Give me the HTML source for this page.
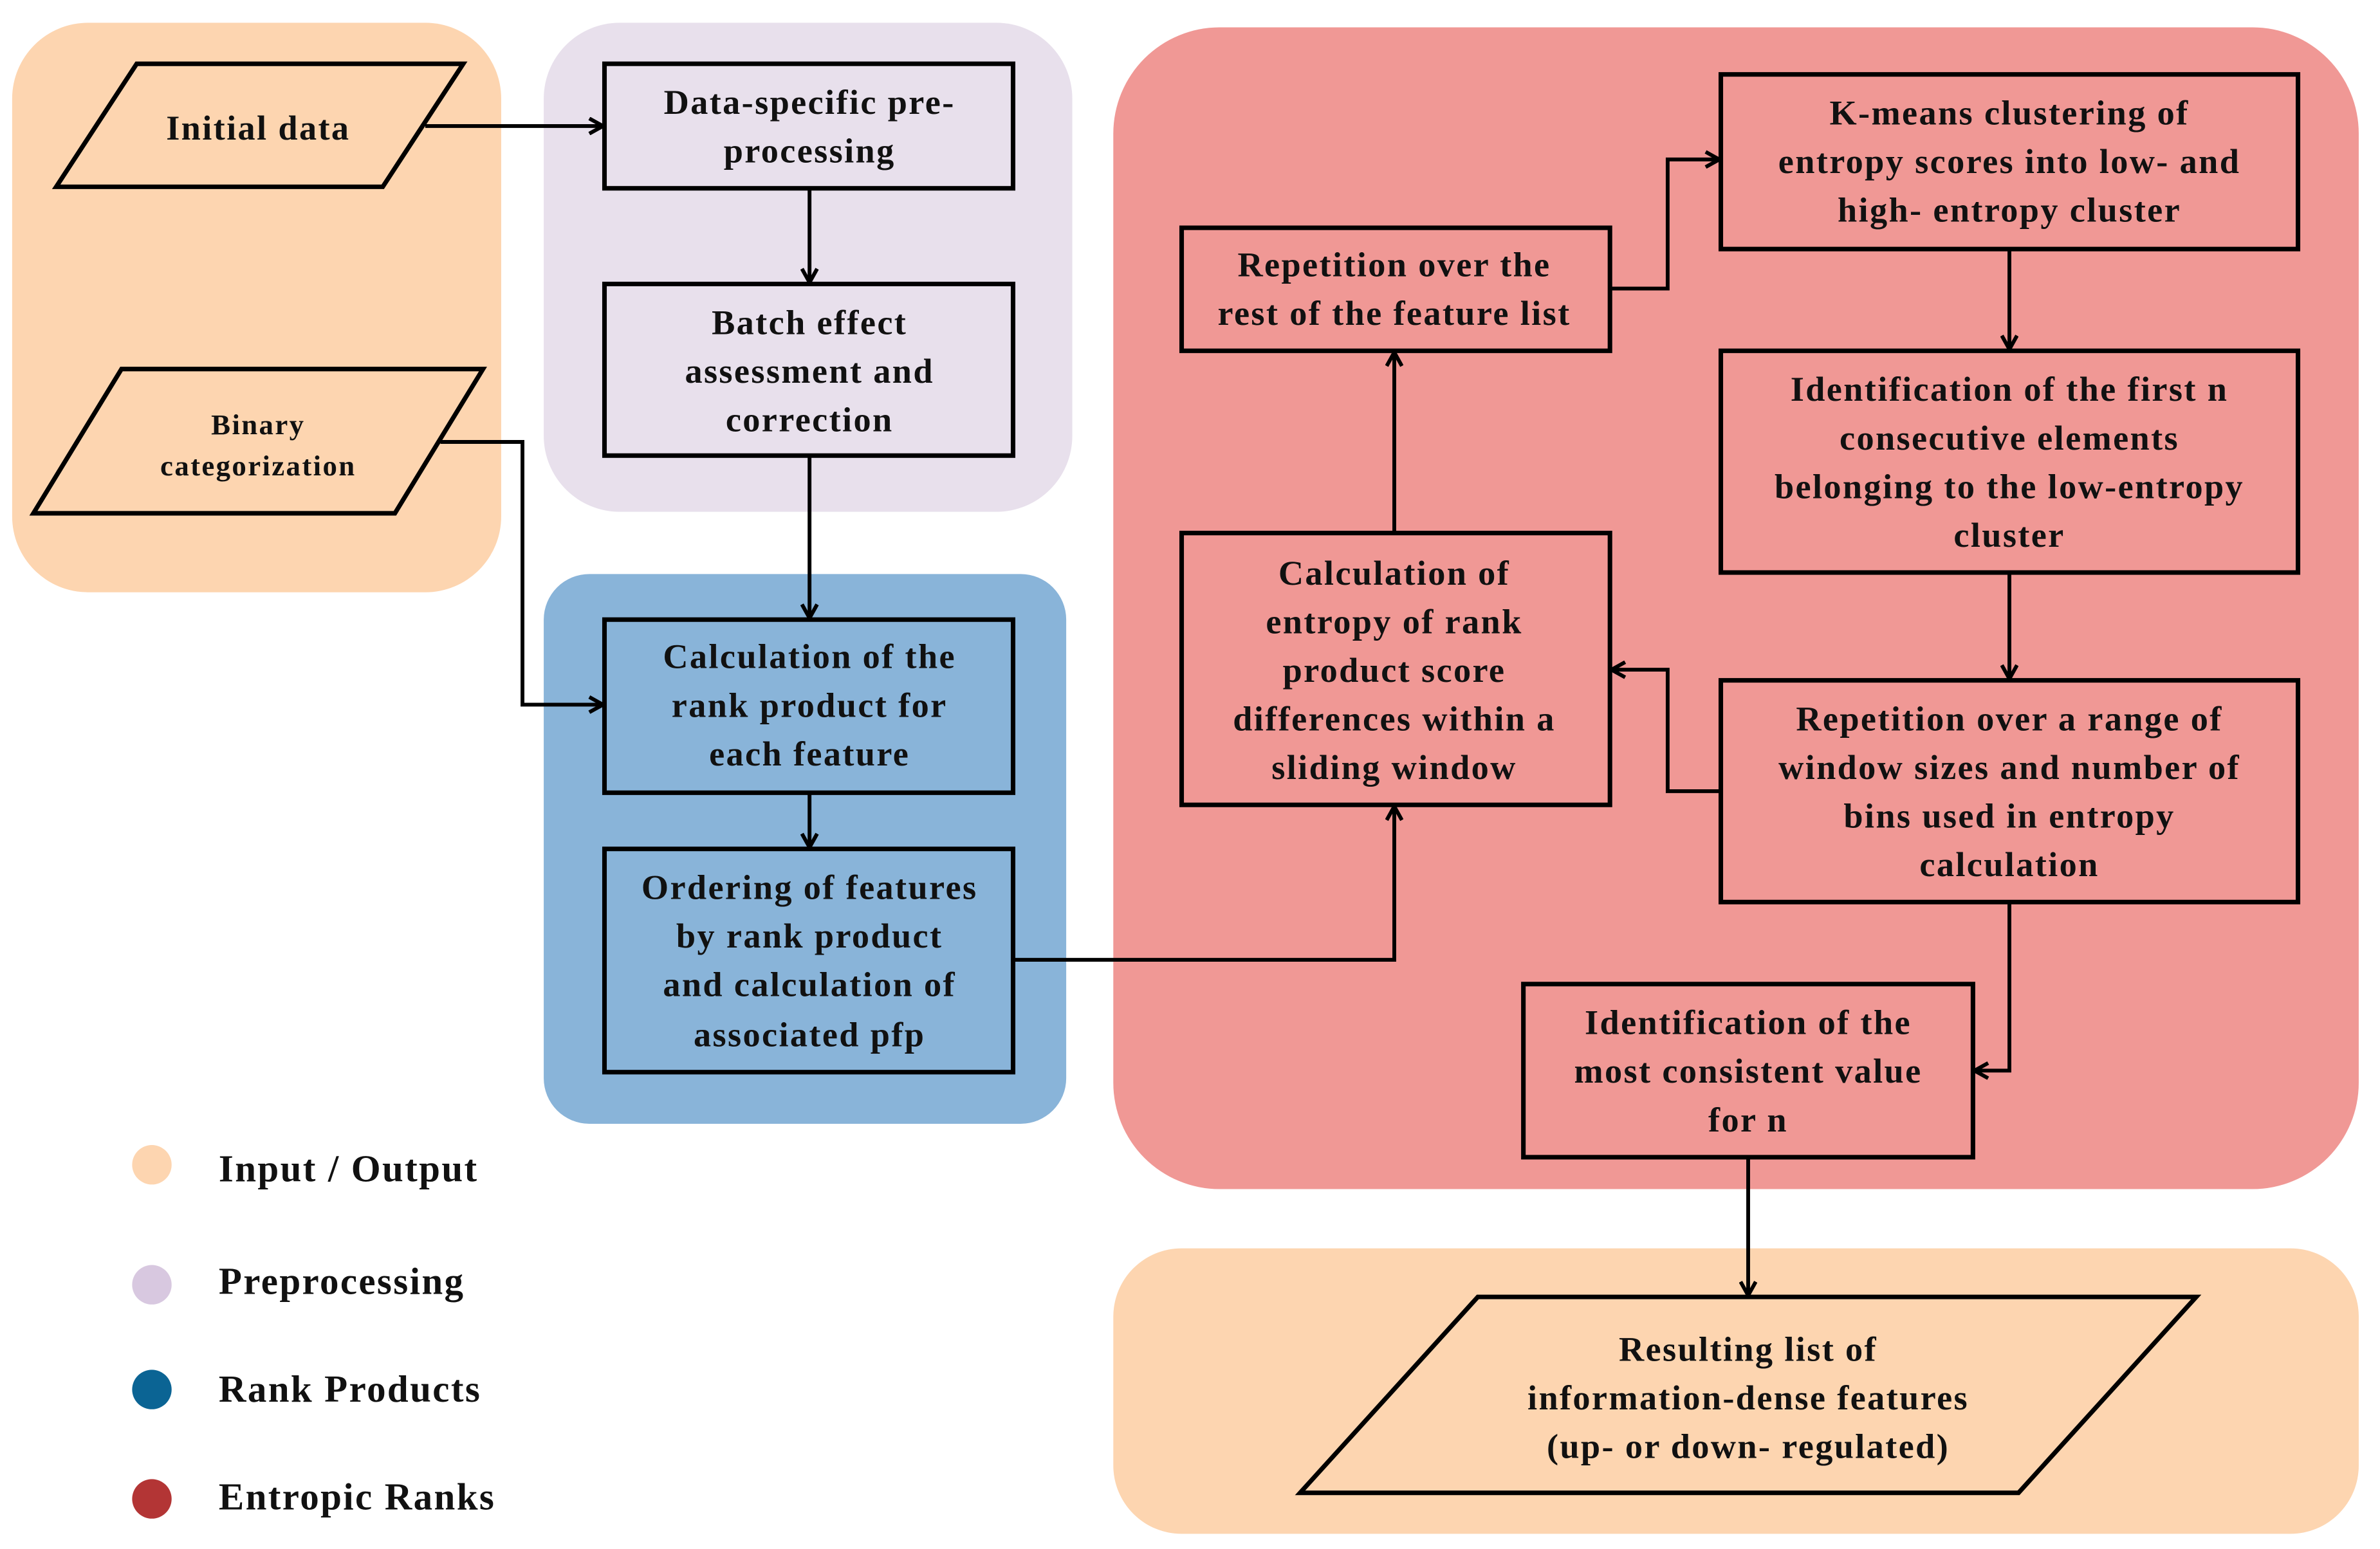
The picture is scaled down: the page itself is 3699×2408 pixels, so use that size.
<!DOCTYPE html>
<html><head><meta charset="utf-8"><style>
html,body{margin:0;padding:0;background:#fff;}
svg{display:block;width:3699px;height:2408px;}
text{font-family:"Liberation Serif",serif;font-weight:bold;font-size:23px;fill:#111;text-anchor:middle;letter-spacing:1px;}
.l{text-anchor:start;font-size:25px;}
.n{stroke:#000;stroke-width:3;}
.c{fill:none;stroke:#000;stroke-width:2.5;}
</style></head><body>
<svg viewBox="0 0 1567 1020" preserveAspectRatio="none" xmlns="http://www.w3.org/2000/svg">
<defs><marker id="a" markerWidth="12" markerHeight="12" refX="10" refY="6" orient="auto" markerUnits="userSpaceOnUse"><path d="M1,1 L10,6 L1,11" fill="none" stroke="#000" stroke-width="2.5"/></marker></defs>
<rect x="8" y="15" width="322" height="375" rx="50" fill="#fdd5b0"/>
<rect x="358" y="15" width="348" height="322" rx="50" fill="#e8e0ec"/>
<rect x="358" y="378" width="344" height="362" rx="30" fill="#89b4d9"/>
<rect x="733" y="18" width="820" height="765" rx="70" fill="#f09895"/>
<rect x="733" y="822" width="820" height="188" rx="45" fill="#fdd5b0"/>
<polygon class="n" fill="#fdd5b0" points="37,123 90,42 305,42 252,123"/>
<text x="170" y="92">Initial data</text>
<polygon class="n" fill="#fdd5b0" points="22,338 80,243 318,243 260,338"/>
<text x="170" y="286" style="font-size:19px">Binary</text>
<text x="170" y="313" style="font-size:19px">categorization</text>
<rect class="n" fill="#e8e0ec" x="398" y="42" width="269" height="82"/>
<text x="533" y="75">Data-specific pre-</text><text x="533" y="107">processing</text>
<rect class="n" fill="#e8e0ec" x="398" y="187" width="269" height="113"/>
<text x="533" y="220">Batch effect</text><text x="533" y="252">assessment and</text><text x="533" y="284">correction</text>
<rect class="n" fill="#89b4d9" x="398" y="408" width="269" height="114"/>
<text x="533" y="440">Calculation of the</text><text x="533" y="472">rank product for</text><text x="533" y="504">each feature</text>
<rect class="n" fill="#89b4d9" x="398" y="559" width="269" height="147"/>
<text x="533" y="592">Ordering of features</text><text x="533" y="624">by rank product</text><text x="533" y="656">and calculation of</text><text x="533" y="689">associated pfp</text>
<rect class="n" fill="#f09895" x="778" y="150" width="282" height="81"/>
<text x="918" y="182">Repetition over the</text><text x="918" y="214">rest of the feature list</text>
<rect class="n" fill="#f09895" x="1133" y="49" width="380" height="115"/>
<text x="1323" y="82">K-means clustering of</text><text x="1323" y="114">entropy scores into low- and</text><text x="1323" y="146">high- entropy cluster</text>
<rect class="n" fill="#f09895" x="1133" y="231" width="380" height="146"/>
<text x="1323" y="264">Identification of the first  n</text><text x="1323" y="296">consecutive elements</text><text x="1323" y="328">belonging to the  low-entropy</text><text x="1323" y="360">cluster</text>
<rect class="n" fill="#f09895" x="778" y="351" width="282" height="179"/>
<text x="918" y="385">Calculation of</text><text x="918" y="417">entropy of rank</text><text x="918" y="449">product score</text><text x="918" y="481">differences within a</text><text x="918" y="513">sliding window</text>
<rect class="n" fill="#f09895" x="1133" y="448" width="380" height="146"/>
<text x="1323" y="481">Repetition over a range of</text><text x="1323" y="513">window sizes and number of</text><text x="1323" y="545">bins used in entropy</text><text x="1323" y="577">calculation</text>
<rect class="n" fill="#f09895" x="1003" y="648" width="296" height="114"/>
<text x="1151" y="681">Identification of the</text><text x="1151" y="713">most consistent value</text><text x="1151" y="745">for n</text>
<polygon class="n" fill="#fdd5b0" points="856,983 973,854 1446,854 1329,983"/>
<text x="1151" y="896">Resulting list of</text><text x="1151" y="928">information-dense features</text><text x="1151" y="960">(up- or down- regulated)</text>
<path class="c" marker-end="url(#a)" d="M280,83 H397"/>
<path class="c" marker-end="url(#a)" d="M533,124 V186"/>
<path class="c" marker-end="url(#a)" d="M533,300 V407"/>
<path class="c" marker-end="url(#a)" d="M290,291 H344 V464 H397"/>
<path class="c" marker-end="url(#a)" d="M533,522 V558"/>
<path class="c" marker-end="url(#a)" d="M667,632 H918 V531"/>
<path class="c" marker-end="url(#a)" d="M918,351 V232"/>
<path class="c" marker-end="url(#a)" d="M1060,190 H1098 V105 H1132"/>
<path class="c" marker-end="url(#a)" d="M1323,164 V230"/>
<path class="c" marker-end="url(#a)" d="M1323,377 V447"/>
<path class="c" marker-end="url(#a)" d="M1133,521 H1098 V441 H1061"/>
<path class="c" marker-end="url(#a)" d="M1323,594 V705 H1300"/>
<path class="c" marker-end="url(#a)" d="M1151,762 V853"/>
<circle cx="100" cy="767" r="13" fill="#fdd5b0"/>
<circle cx="100" cy="846" r="13" fill="#d8c8e0"/>
<circle cx="100" cy="915" r="13" fill="#0b6494"/>
<circle cx="100" cy="987" r="13" fill="#b33535"/>
<text class="l" x="144" y="778">Input / Output</text>
<text class="l" x="144" y="852">Preprocessing</text>
<text class="l" x="144" y="923">Rank Products</text>
<text class="l" x="144" y="994">Entropic Ranks</text>
</svg>
</body></html>
